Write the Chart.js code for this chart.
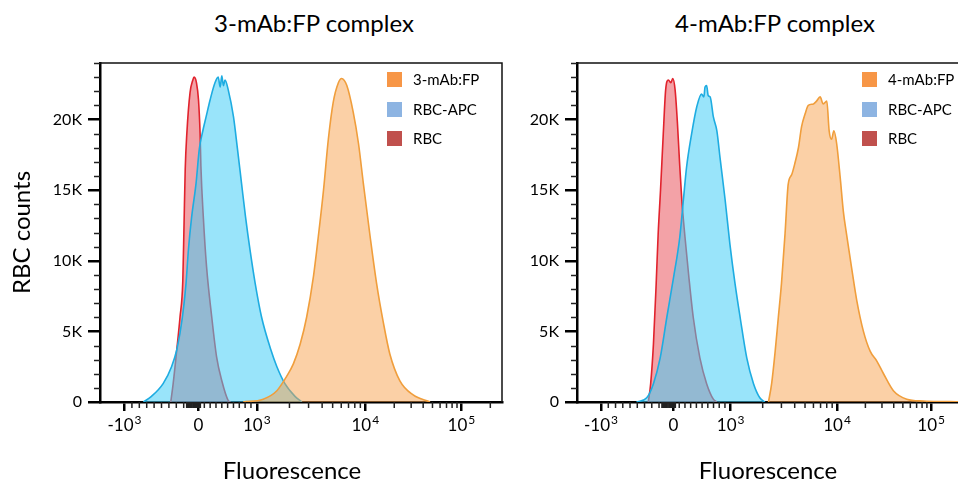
<!DOCTYPE html>
<html>
<head>
<meta charset="utf-8">
<script src="https://cdn.jsdelivr.net/npm/chart.js@4/dist/chart.umd.min.js"></script>
<style>
  html, body { margin:0; padding:0; background:#fff; width:958px; height:486px; overflow:hidden; }
  .wrap { position:absolute; top:0; width:520px; height:486px; }
  #w1 { left:0; }
  #w2 { left:477px; }
  .ptitle { position:absolute; font-family:Lato, "Open Sans", sans-serif; font-size:24px; color:#000; white-space:nowrap; transform:translateX(-50%); line-height:28px; }
  .legend { position:absolute; top:71px; font-family:Lato, "Open Sans", sans-serif; font-size:15px; color:#000; }
  .legend .row { height:29.5px; display:flex; align-items:flex-start; white-space:nowrap; }
  .legend .sw { width:15px; height:15px; margin-right:11px; margin-top:1px; }
  .legend .tx { line-height:17px; }
</style>
</head>
<body>
<div class="ptitle" id="t1" style="left:314px; top:9px;"></div>
<div class="ptitle" id="t2" style="left:775px; top:9px;"></div>
<div class="wrap" id="w1"><canvas id="c1" width="520" height="486"></canvas></div>
<div class="wrap" id="w2"><canvas id="c2" width="520" height="486"></canvas></div>
<div class="ptitle" id="x1" style="left:292px; top:456px;"></div>
<div class="ptitle" id="x2" style="left:768px; top:456px;"></div>
<div class="legend" id="lg1" style="left:387px;"></div>
<div class="legend" id="lg2" style="left:862px;"></div>
<script>
// ---------- texts ----------
const PANEL_TITLES = ["3-mAb:FP complex", "4-mAb:FP complex"];
const Y_TITLE = "RBC counts";
const X_TITLE = "Fluorescence";
const LEGEND_LEFT = ["3-mAb:FP", "RBC-APC", "RBC"];
const LEGEND_RIGHT = ["4-mAb:FP", "RBC-APC", "RBC"];
const LEGEND_COLORS = ["#F79646", "#8DB4E2", "#C0504D"];

// ---------- axes ----------
// x axis is a display (channel) scale 0..1000 of a biexponential fluorescence axis
const X_TICK_VALUES = [-1000, 0, 1000, 10000, 100000];
const X_TICK_BASE = ["-10", "0", "10", "10", "10"];
const X_TICK_EXP = ["3", "", "3", "4", "5"];
const X_TICK_CHANNELS = [61, 245, 390, 660, 899];
const Y_TICK_VALUES = [0, 5000, 10000, 15000, 20000];
const Y_TICK_LABELS = ["0", "5K", "10K", "15K", "20K"];
const Y_MAX = 24000;

// ---------- histogram data (channel, counts in thousands) ----------
// Left panel: 3-mAb:FP complex
const L_FP_CH  = [356,406,440,464,481,498,514,531,543,556,568,580,593,601,614,630,643,655,672,688,705,721,746,779,821];
const L_FP_K   = [0,0.2,0.8,1.8,2.7,4.1,6.0,8.9,11.7,15.0,18.6,21.2,22.6,22.9,22.4,20.5,18.3,15.5,11.7,8.4,5.6,3.4,1.5,0.5,0];
const L_APC_CH = [108,128,157,178,191,205,214,220,228,239,247,255,264,274,286,294,299,303,307,311,319,332,342,352,362,373,386,402,425,440,460,485,502];
const L_APC_K  = [0,0.4,1.3,2.5,3.7,6.0,8.4,10.8,13.1,15.5,17.9,19.1,20.2,21.4,22.6,23.0,22.3,23.1,22.4,22.8,22.1,20.2,17.9,15.5,13.1,10.8,8.4,6.0,3.7,2.5,1.3,0.4,0];
const L_RBC_CH = [176,182,191,199,206,209,212,216,224,231,234,240,245,249,251,257,265,278,290,303,319,325];
const L_RBC_K  = [0,1.3,3.7,6.0,8.6,12.5,16.5,19.0,21.9,22.8,23.0,22.6,21.4,19.0,16.7,13.1,9.6,6.0,3.2,1.5,0.1,0];
// Right panel: 4-mAb:FP complex
const R_FP_CH  = [486,494,503,511,519,528,536,545,553,562,570,579,587,600,608,617,625,634,640,646,652,659,668,676,684,697,710,727,744,761,778,803,837,879,921,963,1000];
const R_FP_K   = [0,1.3,3.6,6.0,8.4,11.9,15.4,16.1,16.9,18.0,19.5,20.4,21.0,21.1,21.3,21.6,21.1,21.3,19.2,18.6,19.2,18.3,15.9,13.5,11.9,9.5,7.2,5.0,3.6,2.9,2.0,0.8,0.2,0.07,0.03,0.02,0];
const R_APC_CH = [151,177,194,211,228,245,261,270,278,291,304,316,322,325,329,333,338,346,355,363,376,388,401,414,431,448,464,477];
const R_APC_K  = [0,0.3,1.3,3.1,6.0,8.8,11.7,14.3,16.6,19.0,20.9,21.8,21.6,22.3,22.4,21.7,21.6,20.2,19.2,17.3,14.3,11.2,8.4,6.0,3.1,1.3,0.3,0];
const R_RBC_CH = [181,187,194,201,206,212,219,225,232,238,243,249,255,260,266,274,283,295,312,329,346,355];
const R_RBC_K  = [0,1.3,4.1,8.4,11.9,15.0,19.0,22.1,22.8,22.6,22.9,22.1,19.7,17.1,14.3,11.7,9.1,6.0,3.1,1.3,0.2,0];

// ---------- helpers ----------
const FONT = 'Lato, "Open Sans", sans-serif';
function pts(ch, k) { return ch.map((c, i) => ({ x: c, y: k[i] * 1000 })); }

// biexponential display mapping (used only for minor tick marks)
function chOf(v) {
  const [cN, c0, c3, c4, c5] = X_TICK_CHANNELS;
  if (v < 0) return c0 + (v / 1000) * (c0 - cN);
  if (v <= 1000) return c0 + (v / 1000) * (c3 - c0);
  if (v <= 10000) return c3 + Math.log10(v / 1000) * (c4 - c3);
  return c4 + Math.log10(v / 10000) * (c5 - c4);
}
const X_MINOR = [];
for (let v = -900; v <= 900; v += 100) if (v !== 0) X_MINOR.push(v);
for (let v = -160; v <= 40; v += 12) if (v !== 0) X_MINOR.push(v);
for (let v = 2000; v <= 9000; v += 1000) X_MINOR.push(v);
for (let v = 20000; v <= 90000; v += 10000) X_MINOR.push(v);
X_MINOR.push(200000);

const framePlugin = {
  id: 'frame',
  afterDraw(chart) {
    const { ctx, chartArea: a, scales } = chart;
    ctx.save();
    // box
    ctx.strokeStyle = '#111';
    ctx.lineWidth = 1.5;
    ctx.beginPath();
    ctx.moveTo(a.left, a.top); ctx.lineTo(a.right, a.top); ctx.lineTo(a.right, a.bottom);
    ctx.stroke();
    // y minor ticks
    ctx.strokeStyle = '#222';
    for (let v = 1000; v <= Y_MAX; v += 1000) {
      if (v % 5000 === 0) continue;
      const y = Math.round(scales.y.getPixelForValue(v)) + 0.5;
      ctx.beginPath(); ctx.moveTo(a.left - 6, y); ctx.lineTo(a.left, y); ctx.stroke();
    }
    // x minor ticks
    for (const v of X_MINOR) {
      const x = scales.x.getPixelForValue(chOf(v));
      ctx.beginPath(); ctx.moveTo(x, a.bottom); ctx.lineTo(x, a.bottom + 6); ctx.stroke();
    }
    // x tick labels with raised exponents
    ctx.fillStyle = '#000';
    ctx.textBaseline = 'alphabetic';
    ctx.textAlign = 'left';
    const baseFont = '17px ' + FONT, expFont = '12px ' + FONT;
    X_TICK_CHANNELS.forEach((c, i) => {
      const x = scales.x.getPixelForValue(c);
      ctx.font = baseFont; const wb = ctx.measureText(X_TICK_BASE[i]).width;
      ctx.font = expFont; const we = X_TICK_EXP[i] ? ctx.measureText(X_TICK_EXP[i]).width + 1 : 0;
      const x0 = x - (wb + we) / 2;
      ctx.font = baseFont; ctx.fillText(X_TICK_BASE[i], x0, a.bottom + 29);
      if (X_TICK_EXP[i]) { ctx.font = expFont; ctx.fillText(X_TICK_EXP[i], x0 + wb + 1, a.bottom + 22); }
    });
    ctx.restore();
  }
};

function makeChart(canvasId, fp, apc, rbc, names, showYTitle, rightPad) {
  const datasets = [
    { label: names[0], data: fp, borderColor: 'rgb(240,158,60)', backgroundColor: 'rgba(248,162,78,0.5)' },
    { label: names[1], data: apc, borderColor: 'rgb(30,172,225)', backgroundColor: 'rgba(70,205,245,0.55)' },
    { label: names[2], data: rbc, borderColor: 'rgb(225,35,45)', backgroundColor: 'rgba(232,70,80,0.5)' }
  ].map(d => Object.assign(d, { fill: 'origin', pointRadius: 0, borderWidth: 1.6, tension: 0.35, cubicInterpolationMode: 'monotone' }));

  return new Chart(document.getElementById(canvasId), {
    type: 'line',
    data: { datasets },
    options: {
      responsive: false,
      devicePixelRatio: 1,
      animation: false,
      layout: { padding: { top: 63, left: 0, right: rightPad, bottom: 0 } },
      plugins: { legend: { display: false }, tooltip: { enabled: false }, title: { display: false } },
      scales: {
        x: {
          type: 'linear', min: 0, max: 1000,
          afterFit(s) { s.height = 84; },
          afterBuildTicks(s) { s.ticks = X_TICK_CHANNELS.map(v => ({ value: v })); },
          ticks: { display: false, autoSkip: false, maxRotation: 0 },
          grid: { drawOnChartArea: false, drawTicks: true, tickLength: 9, color: '#000', lineWidth: 2.5 },
          border: { display: true, color: '#000', width: 2.5 },
          title: { display: false }
        },
        y: {
          type: 'linear', min: 0, max: Y_MAX,
          afterFit(s) { s.width = 100; },
          afterBuildTicks(s) { s.ticks = Y_TICK_VALUES.map(v => ({ value: v })); },
          ticks: {
            padding: 6, color: '#000', font: { family: FONT, size: 16 },
            callback: (val) => Y_TICK_LABELS[Y_TICK_VALUES.indexOf(val)]
          },
          grid: { drawOnChartArea: false, drawTicks: true, tickLength: 12, color: '#000', lineWidth: 2.5 },
          border: { display: true, color: '#000', width: 2.5 },
          title: { display: showYTitle, text: Y_TITLE, color: '#000', font: { family: FONT, size: 24 }, padding: { top: 8, bottom: 0 } }
        }
      }
    },
    plugins: [framePlugin]
  });
}

makeChart('c1', pts(L_FP_CH, L_FP_K), pts(L_APC_CH, L_APC_K), pts(L_RBC_CH, L_RBC_K), LEGEND_LEFT, true, 18);
makeChart('c2', pts(R_FP_CH, R_FP_K), pts(R_APC_CH, R_APC_K), pts(R_RBC_CH, R_RBC_K), LEGEND_RIGHT, false, 26);

document.getElementById('t1').textContent = PANEL_TITLES[0];
document.getElementById('t2').textContent = PANEL_TITLES[1];
document.getElementById('x1').textContent = X_TITLE;
document.getElementById('x2').textContent = X_TITLE;
function buildLegend(id, names) {
  const el = document.getElementById(id);
  names.forEach((n, i) => {
    const row = document.createElement('div'); row.className = 'row';
    const sw = document.createElement('div'); sw.className = 'sw'; sw.style.background = LEGEND_COLORS[i];
    const tx = document.createElement('div'); tx.className = 'tx'; tx.textContent = n;
    row.appendChild(sw); row.appendChild(tx); el.appendChild(row);
  });
}
buildLegend('lg1', LEGEND_LEFT);
buildLegend('lg2', LEGEND_RIGHT);
</script>
</body>
</html>
